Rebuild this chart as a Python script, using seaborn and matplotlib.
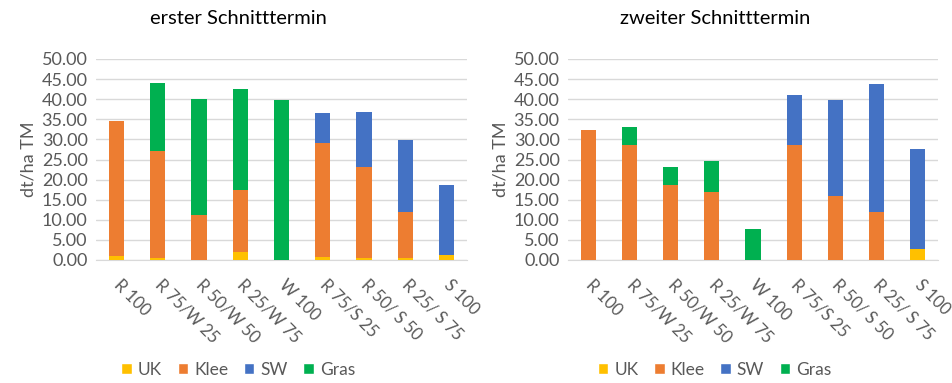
import numpy as np
import pandas as pd
import seaborn as sns
from matplotlib import pyplot as plt
from matplotlib.patches import Patch

categories = ['R 100', 'R 75/W 25', 'R 50/W 50', 'R 25/W 75', 'W 100',
              'R 75/S 25', 'R 50/ S 50', 'R 25/ S 75', 'S 100']
series = ['UK', 'Klee', 'SW', 'Gras']
colors = {'UK': '#FFC000', 'Klee': '#ED7D31', 'SW': '#4472C4', 'Gras': '#00B050'}

# erster Schnitttermin
uk_1 = [1.0, 0.5, 0.0, 2.0, 0.0, 0.7, 0.5, 0.6, 1.2]
klee_1 = [33.7, 26.6, 11.2, 15.4, 0.0, 28.5, 22.6, 11.3, 0.0]
sw_1 = [0.0, 0.0, 0.0, 0.0, 0.0, 7.3, 13.6, 18.0, 17.5]
gras_1 = [0.0, 16.9, 28.8, 25.1, 39.8, 0.0, 0.0, 0.0, 0.0]

# zweiter Schnitttermin
uk_2 = [0.0, 0.0, 0.0, 0.0, 0.0, 0.0, 0.0, 0.0, 2.7]
klee_2 = [32.4, 28.5, 18.6, 16.9, 0.0, 28.5, 15.9, 12.0, 0.0]
sw_2 = [0.0, 0.0, 0.0, 0.0, 0.0, 12.5, 24.0, 31.8, 25.0]
gras_2 = [0.0, 4.5, 4.5, 7.8, 7.7, 0.0, 0.0, 0.0, 0.0]

titles = ['erster Schnitttermin', 'zweiter Schnitttermin']
yticks = np.arange(0, 50.01, 5)

sns.set_style('white')
plt.rcParams['font.family'] = ['Lato', 'DejaVu Sans']
grey = '#595959'
fs = 13

fig = plt.figure(figsize=(9.53, 3.83), dpi=100)
ax1 = fig.add_axes([96 / 953, 1 - 260 / 383, 371 / 953, 201 / 383])
ax2 = fig.add_axes([568 / 953, 1 - 260 / 383, 370 / 953, 201 / 383])

panels = [
    (ax1, {'UK': uk_1, 'Klee': klee_1, 'SW': sw_1, 'Gras': gras_1}),
    (ax2, {'UK': uk_2, 'Klee': klee_2, 'SW': sw_2, 'Gras': gras_2}),
]

for i, (ax, data) in enumerate(panels):
    # stacked bars: each layer sits on the sum of the ones below
    bottom = np.zeros(len(categories))
    for s in series:
        df = pd.DataFrame({'cat': categories, 'val': data[s]})
        sns.barplot(data=df, x='cat', y='val', ax=ax, color=colors[s],
                    width=0.37, bottom=bottom, saturation=1, zorder=3,
                    linewidth=0, edgecolor='none')
        bottom = bottom + np.array(data[s])

    ax.set_ylim(0, 50)
    ax.set_xlim(-0.5, len(categories) - 0.5)
    ax.set_yticks(yticks)
    ax.set_yticklabels([f'{v:.2f}' for v in yticks], fontsize=fs, color=grey)
    ax.yaxis.grid(True, color='#D9D9D9', linewidth=1, zorder=0)
    ax.set_xlabel('')
    ax.set_ylabel('dt/ha TM', fontsize=fs, color=grey, labelpad=4)
    ax.tick_params(axis='y', length=0, pad=6)
    ax.tick_params(axis='x', length=0, pad=16)
    ax.set_xticks(range(len(categories)))
    ax.set_xticklabels(categories, rotation=-45, ha='left', va='center',
                       rotation_mode='anchor', fontsize=12, color=grey)
    for side in ['top', 'right', 'left']:
        ax.spines[side].set_visible(False)
    ax.spines['bottom'].set_color('#D9D9D9')

    cx = 0.25 + 0.5 * i
    fig.text(cx, 1 - 18 / 383, titles[i], ha='center', va='center',
             fontsize=14.5, color='black')
    handles = [Patch(facecolor=colors[s], label=s) for s in series]
    fig.legend(handles=handles, loc='center', ncol=4, frameon=False,
               bbox_to_anchor=(cx, 1 - 370 / 383), fontsize=12.5,
               handlelength=0.6, handleheight=0.6, handletextpad=0.35,
               columnspacing=0.9, labelcolor=grey)

fig.savefig('out.png', dpi=100)
